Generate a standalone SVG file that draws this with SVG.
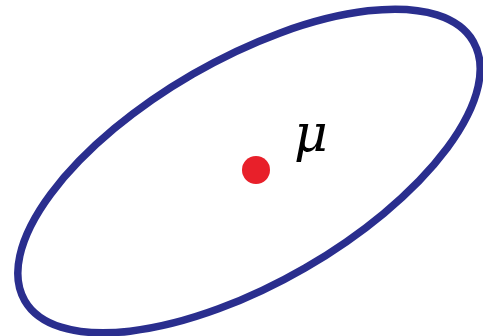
<svg xmlns="http://www.w3.org/2000/svg" width="483" height="336" viewBox="0 0 483 336">
<style>
.ell{fill:none;stroke:#2a2e8e;stroke-width:7.5}
.mu{font-family:"DejaVu Serif",serif;font-style:italic;font-size:52px;fill:#000}
</style>
<rect width="483" height="336" fill="#fff"/>
<g id="ellipse"><ellipse class="ell" cx="249" cy="171" rx="259" ry="112" transform="rotate(-30 249 171)"/></g>
<g id="mean"><circle cx="256" cy="170" r="14" fill="#e8202a"/><text class="mu" x="294" y="151">μ</text></g>
</svg>
